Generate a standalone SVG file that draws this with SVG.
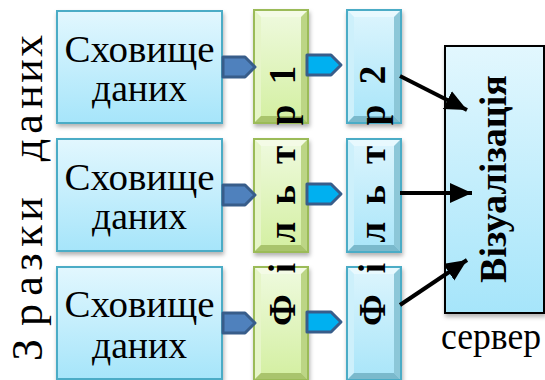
<svg xmlns="http://www.w3.org/2000/svg" width="545" height="380" viewBox="0 0 545 380">
<style>
.st{font-family:"Liberation Serif","DejaVu Serif",serif;font-size:38px;fill:#000;text-anchor:middle}
.ft{font-family:"Liberation Serif","DejaVu Serif",serif;font-size:37px;font-weight:bold;fill:#000;text-anchor:middle}
.lb{font-family:"Liberation Serif","DejaVu Serif",serif;font-size:44px;fill:#000;text-anchor:middle}
.vt{font-family:"Liberation Serif","DejaVu Serif",serif;font-size:38px;font-weight:bold;fill:#000;text-anchor:middle}
.sv{font-family:"Liberation Serif","DejaVu Serif",serif;font-size:37px;fill:#000}
.sbox{fill:url(#gBlue);stroke:#4bacc6;stroke-width:2;filter:url(#sh)}
.conD{fill:#4f81bd;stroke:#385d8a;stroke-width:3;stroke-linejoin:round}
.conB{fill:#00b0f0;stroke:#385d8a;stroke-width:3;stroke-linejoin:round}
.arr{stroke:#000;stroke-width:4;fill:none;marker-end:url(#ah)}
</style>
<defs>
<linearGradient id="gBlue" x1="0" y1="0" x2="0" y2="1"><stop offset="0" stop-color="#e2f7fe"/><stop offset="1" stop-color="#a6e5fa"/></linearGradient>
<linearGradient id="gGreen" x1="0" y1="0" x2="0" y2="1"><stop offset="0" stop-color="#effadf"/><stop offset="1" stop-color="#d3efa0"/></linearGradient>
<linearGradient id="gBlue2" x1="0" y1="0" x2="0" y2="1"><stop offset="0" stop-color="#ddf5fd"/><stop offset="1" stop-color="#a8e5f9"/></linearGradient>
<filter id="sh" x="-20%" y="-20%" width="140%" height="140%"><feDropShadow dx="1" dy="3" stdDeviation="2" flood-color="#000" flood-opacity="0.3"/></filter>
<marker id="ah" markerUnits="userSpaceOnUse" markerWidth="26" markerHeight="24" refX="22" refY="10" orient="auto"><path d="M0,0 L22,10 L0,20 Z" fill="#000"/></marker>
<g id="gbx">
<rect x="0" y="0" width="54" height="113" fill="url(#gGreen)"/>
<polygon points="0,0 54,0 47,7 7,7" fill="#f4fbe6"/>
<polygon points="0,0 0,113 7,106 7,7" fill="#e6f5c8"/>
<polygon points="54,0 54,113 47,106 47,7" fill="#bcd585"/>
<polygon points="0,113 54,113 47,106 7,106" fill="#a9c46c"/>
<rect x="0" y="0" width="54" height="113" fill="none" stroke="#9bbb59" stroke-width="2"/>
</g>
<g id="bbx">
<rect x="0" y="0" width="54" height="113" fill="url(#gBlue2)"/>
<polygon points="0,0 54,0 47,7 7,7" fill="#e8f9fe"/>
<polygon points="0,0 0,113 7,106 7,7" fill="#cdf0fb"/>
<polygon points="54,0 54,113 47,106 47,7" fill="#8cc7d8"/>
<polygon points="0,113 54,113 47,106 7,106" fill="#7ab9cc"/>
<rect x="0" y="0" width="54" height="113" fill="none" stroke="#4bacc6" stroke-width="2"/>
</g>
</defs>
<rect width="545" height="380" fill="#fff"/>

<g id="label-left">
<text class="lb" transform="translate(42,0) rotate(-90)" x="-350 -315 -286 -262 -236 -209 -180 -150 -124 -97 -71 -46" y="0">Зразки даних</text>
</g>

<g id="storage1">
<rect class="sbox" x="57" y="11" width="165" height="112"/>
<text class="st" x="139.5" y="62" textLength="150" lengthAdjust="spacingAndGlyphs">Сховище</text>
<text class="st" x="139.5" y="101" textLength="95" lengthAdjust="spacingAndGlyphs">даних</text>
</g>
<g id="storage2">
<rect class="sbox" x="57" y="139" width="165" height="112"/>
<text class="st" x="139.5" y="190" textLength="150" lengthAdjust="spacingAndGlyphs">Сховище</text>
<text class="st" x="139.5" y="229" textLength="95" lengthAdjust="spacingAndGlyphs">даних</text>
</g>
<g id="storage3">
<rect class="sbox" x="57" y="267" width="165" height="112"/>
<text class="st" x="139.5" y="317" textLength="150" lengthAdjust="spacingAndGlyphs">Сховище</text>
<text class="st" x="139.5" y="358" textLength="95" lengthAdjust="spacingAndGlyphs">даних</text>
</g>

<g id="filter1" filter="url(#sh)">
<use href="#gbx" x="254" y="10"/>
<use href="#gbx" x="254" y="139"/>
<use href="#gbx" x="254" y="267"/>
</g>
<g id="filter2" filter="url(#sh)">
<use href="#bbx" x="347" y="10"/>
<use href="#bbx" x="347" y="139"/>
<use href="#bbx" x="347" y="267"/>
</g>

<g id="visualization">
<rect x="445" y="46" width="99" height="267" fill="url(#gBlue)" stroke="#000" stroke-width="2" filter="url(#sh)"/>
<text class="vt" transform="translate(506,179) rotate(-90)" x="0" y="0" textLength="208" lengthAdjust="spacingAndGlyphs">Візуалізація</text>
</g>
<g id="server-label">
<text class="sv" x="441" y="349" textLength="100" lengthAdjust="spacingAndGlyphs">сервер</text>
</g>

<g id="connectors">
<path class="conD" d="M223,57 H245 L255,67 L245,77 H223 Z"/>
<path class="conD" d="M223,185 H245 L255,195 L245,205 H223 Z"/>
<path class="conD" d="M223,313 H245 L255,323 L245,333 H223 Z"/>
<path class="conB" d="M307,55 H331 L341,65 L331,75 H307 Z"/>
<path class="conB" d="M307,184 H331 L341,194 L331,204 H307 Z"/>
<path class="conB" d="M307,312 H331 L341,322 L331,332 H307 Z"/>
<line class="arr" x1="400" y1="76" x2="467" y2="110"/>
<line class="arr" x1="400" y1="193" x2="472" y2="193"/>
<line class="arr" x1="400" y1="305" x2="467" y2="260"/>
</g>

<g id="filter-labels">
<text class="ft" transform="translate(295,0) rotate(-90)" x="-310 -268 -232 -195 -155 -115 -95 -75" y="0">Фільтр 1</text>
<text class="ft" transform="translate(385,0) rotate(-90)" x="-310 -268 -232 -195 -155 -115 -95 -75" y="0">Фільтр 2</text>
</g>
</svg>
